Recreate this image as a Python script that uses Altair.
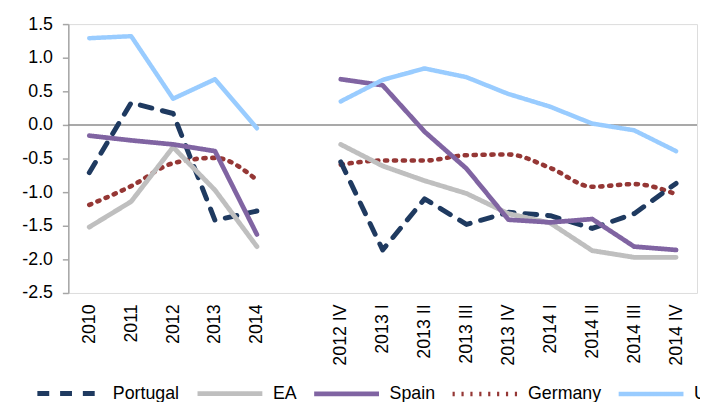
import altair as alt
import pandas as pd

categories = ["2010", "2011", "2012", "2013", "2014", " ",
              "2012 IV", "2013 I", "2013 II", "2013 III", "2013 IV",
              "2014 I", "2014 II", "2014 III", "2014 IV"]

series_names = ["Portugal", "EA", "Spain", "Germany", "US"]

portugal = [-0.71, 0.33, 0.17, -1.42, -1.28, None,
            -0.55, -1.86, -1.10, -1.48, -1.30, -1.35, -1.54, -1.32, -0.87]
ea = [-1.52, -1.14, -0.33, -0.97, -1.81, None,
      -0.29, -0.61, -0.83, -1.02, -1.32, -1.46, -1.87, -1.97, -1.97]
spain = [-0.16, -0.23, -0.29, -0.39, -1.63, None,
         0.68, 0.59, -0.10, -0.65, -1.41, -1.45, -1.40, -1.81, -1.86]
germany = [-1.19, -0.91, -0.57, -0.49, -0.82, None,
           -0.59, -0.53, -0.53, -0.45, -0.44, -0.64, -0.92, -0.88, -1.03]
us = [1.29, 1.32, 0.39, 0.68, -0.05, None,
      0.35, 0.67, 0.84, 0.71, 0.46, 0.27, 0.02, -0.08, -0.39]

y_ticks = [-2.5, -2.0, -1.5, -1.0, -0.5, 0.0, 0.5, 1.0, 1.5]

colors = ["#1F3A60", "#BFBFBF", "#8064A2", "#953735", "#99CCFF"]
dashes = [[12, 11], [1, 0], [1, 0], [2.2, 6.8], [1, 0]]
widths = [5, 4.5, 4.5, 3.5, 4.5]

rows = []
for name, vals in zip(series_names, [portugal, ea, spain, germany, us]):
    for i, (c, v) in enumerate(zip(categories, vals)):
        if v is None:
            continue
        rows.append({"series": name, "cat": c, "value": v,
                     "segment": "annual" if i < 5 else "quarterly"})
df = pd.DataFrame(rows)
zero_df = pd.DataFrame({"value": [0.0]})

FONT = "Liberation Sans"

legend = alt.Legend(orient="none", legendX=-34, legendY=338, direction="horizontal",
                    title=None, symbolType="stroke", symbolSize=4300,
                    labelFontSize=18, labelFont=FONT, labelColor="black",
                    columnPadding=7, labelOffset=8, labelLimit=0)

x_enc = alt.X("cat:N", sort=categories,
              scale=alt.Scale(domain=categories, type="point", padding=0.5),
              axis=alt.Axis(title=None, labelAngle=-90, ticks=False, domain=False,
                            labelFontSize=18, labelFont=FONT, labelColor="black",
                            labelPadding=11, grid=False, labelOverlap=False))

y_axis = alt.Axis(title=None, values=y_ticks, tickCount=9, grid=False, labelOverlap=False,
                  labelExpr="(datum.value < 0 ? '-' : '') + format(abs(datum.value), '.1f')",
                  labelFontSize=18, labelFont=FONT, labelColor="black",
                  tickSize=6, labelPadding=10, domainColor="#A6A6A6",
                  tickColor="#A6A6A6", domainWidth=1.5, tickWidth=1.5)
y_scale = alt.Scale(domain=[-2.5, 1.5], nice=False, zero=False)
y_enc = alt.Y("value:Q", scale=y_scale, axis=y_axis)

enc = dict(
    x=x_enc,
    y=y_enc,
    color=alt.Color("series:N", scale=alt.Scale(domain=series_names, range=colors), legend=legend),
    strokeDash=alt.StrokeDash("series:N", scale=alt.Scale(domain=series_names, range=dashes), legend=legend),
    strokeWidth=alt.StrokeWidth("series:N", scale=alt.Scale(domain=series_names, range=widths), legend=legend),
    detail="segment:N",
)

zero = alt.Chart(zero_df).mark_rule(color="#8C8C8C", strokeWidth=1.5).encode(
    y=alt.Y("value:Q", scale=y_scale, axis=y_axis))

lines_main = alt.Chart(df).transform_filter(alt.datum.series != "Germany").mark_line(
    strokeCap="round", strokeJoin="round").encode(**enc)
lines_ger = alt.Chart(df).transform_filter(alt.datum.series == "Germany").mark_line(
    strokeCap="round", strokeJoin="round", interpolate="monotone").encode(**enc)

chart = alt.layer(zero, lines_ger, lines_main).properties(
    width=636, height=272,
    autosize=alt.AutoSizeParams(type="none"),
    padding={"left": 61, "top": 14, "right": 3, "bottom": 108},
).configure_view(stroke=None).configure(font=FONT)

chart.save("out.html", embed_options={"renderer": "svg", "actions": False})
